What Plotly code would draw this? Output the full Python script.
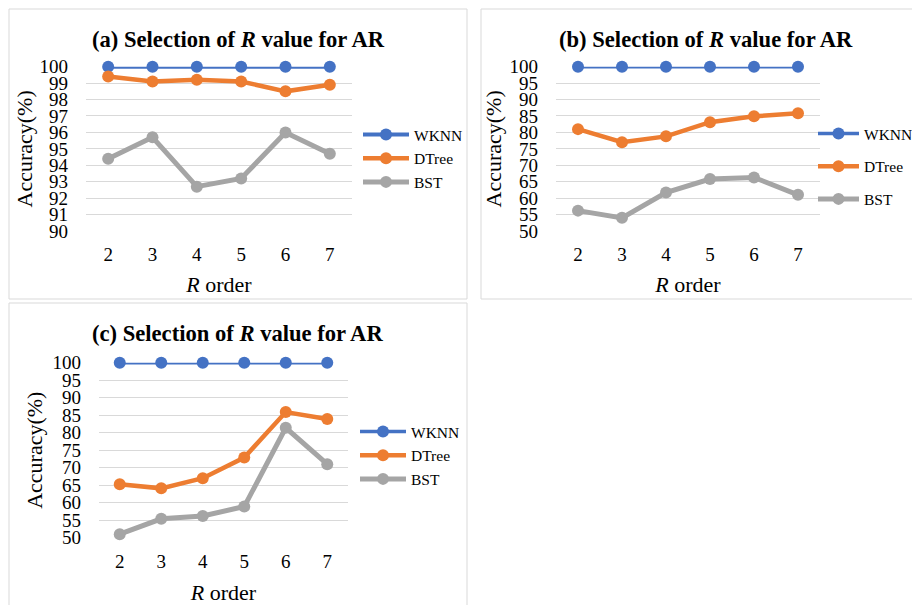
import plotly.graph_objects as go

# ---------------- data ----------------
r_order = [2, 3, 4, 5, 6, 7]
series_names = ["WKNN", "DTree", "BST"]

a_wknn = [100, 100, 100, 100, 100, 100]
a_dtree = [99.4, 99.1, 99.2, 99.1, 98.5, 98.9]
a_bst = [94.4, 95.7, 92.7, 93.2, 96.0, 94.7]

b_wknn = [100, 100, 100, 100, 100, 100]
b_dtree = [81.0, 77.0, 78.8, 83.1, 84.9, 85.8]
b_bst = [56.2, 54.0, 61.7, 65.8, 66.3, 61.0]

c_wknn = [100, 100, 100, 100, 100, 100]
c_dtree = [65.3, 64.1, 67.0, 72.9, 85.9, 83.9]
c_bst = [51.0, 55.4, 56.2, 58.9, 81.4, 71.0]

panel_titles = [
    "<b>(a) Selection of <i>R</i> value for AR</b>",
    "<b>(b) Selection of <i>R</i> value for AR</b>",
    "<b>(c) Selection of <i>R</i> value for AR</b>",
]
y_title = "Accuracy(%)"
x_title = "<i>R</i> order"

colors = ["#4472C4", "#ED7D31", "#A5A5A5"]
W, H = 920, 605
OX, OY = 8, 8  # page body margin offset
FONT = "Liberation Serif, Times New Roman, serif"


def px(x):
    return (x - OX) / W


def py(y):
    return 1 - (y - OY) / H


fig = go.Figure()

panels = [
    dict(data=[a_wknn, a_dtree, a_bst], xd=(86, 352), yd=(66.7, 231), yr=(90, 100), dt=1,
         widths=[4, 4.5, 5], legend="legend", ax="", ystand=0, xstand=12),
    dict(data=[b_wknn, b_dtree, b_bst], xd=(556, 820), yd=(66.7, 231), yr=(50, 100), dt=5,
         widths=[3.5, 4.5, 5], legend="legend2", ax="2", ystand=1, xstand=12),
    dict(data=[c_wknn, c_dtree, c_bst], xd=(99, 348), yd=(362.7, 537.7), yr=(50, 100), dt=5,
         widths=[3.5, 4.5, 5], legend="legend3", ax="3", ystand=3, xstand=13),
]

for p in panels:
    for i, (name, vals) in enumerate(zip(series_names, p["data"])):
        fig.add_trace(go.Scatter(
            x=r_order, y=vals, name=name, mode="lines+markers",
            line=dict(color=colors[i], width=p["widths"][i]),
            marker=dict(color=colors[i], size=12),
            xaxis="x" + p["ax"], yaxis="y" + p["ax"],
            legend=p["legend"], legendgroup=p["legend"] + name,
            cliponaxis=False, showlegend=True,
        ))
    xa = dict(
        domain=[px(p["xd"][0]), px(p["xd"][1])],
        range=[1.5, 7.5], tickmode="array", tickvals=r_order,
        ticktext=[str(v) for v in r_order],
        showgrid=False, zeroline=False, showline=False, automargin=False,
        tickfont=dict(family=FONT, size=19, color="#000000"),
        ticklabelstandoff=10,
        title=dict(text=x_title, font=dict(family=FONT, size=22, color="#000000"),
                   standoff=p["xstand"]),
        anchor="y" + p["ax"], fixedrange=True,
    )
    ya = dict(
        domain=[py(p["yd"][1]), py(p["yd"][0])],
        range=list(p["yr"]), dtick=p["dt"], tick0=p["yr"][0],
        showgrid=True, gridcolor="#D9D9D9", gridwidth=1.3,
        zeroline=False, showline=False, automargin=False,
        tickfont=dict(family=FONT, size=19, color="#000000"),
        ticklabelstandoff=17,
        title=dict(text=y_title, font=dict(family=FONT, size=22, color="#000000"),
                   standoff=p["ystand"]),
        anchor="x" + p["ax"], fixedrange=True,
    )
    fig.layout["xaxis" + p["ax"]] = xa
    fig.layout["yaxis" + p["ax"]] = ya

legend_common = dict(
    font=dict(family=FONT, size=15.5, color="#000000"),
    bgcolor="rgba(0,0,0,0)", borderwidth=0,
    xanchor="left", yanchor="top", traceorder="grouped",
)
fig.update_layout(
    legend=dict(x=px(358), y=py(118), tracegroupgap=0.5, itemwidth=46, **legend_common),
    legend2=dict(x=px(813), y=py(117), tracegroupgap=9.5, itemwidth=41, **legend_common),
    legend3=dict(x=px(355), y=py(415), tracegroupgap=0.5, itemwidth=46, **legend_common),
)

# panel borders
borders = [(9, 9, 467, 299), (481, 9, 918, 299), (9, 303, 467, 620)]
shapes = []
for x0, y0, x1, y1 in borders:
    shapes.append(dict(type="rect", xref="paper", yref="paper",
                       x0=px(x0), x1=px(x1), y0=py(y1), y1=py(y0),
                       line=dict(color="#D9D9D9", width=1), fillcolor="rgba(0,0,0,0)",
                       layer="below"))

title_pos = [(238, 40), (706, 40), (237.5, 333)]
annotations = []
for t, (tx, ty) in zip(panel_titles, title_pos):
    annotations.append(dict(text=t, x=px(tx), y=py(ty), xref="paper", yref="paper",
                            xanchor="center", yanchor="middle", showarrow=False,
                            font=dict(family=FONT, size=22.6, color="#000000")))

fig.update_layout(
    width=W, height=H, margin=dict(l=0, r=0, t=0, b=0, autoexpand=False),
    paper_bgcolor="#FFFFFF", plot_bgcolor="#FFFFFF",
    shapes=shapes, annotations=annotations, showlegend=True,
)

fig.write_html("out.html")
